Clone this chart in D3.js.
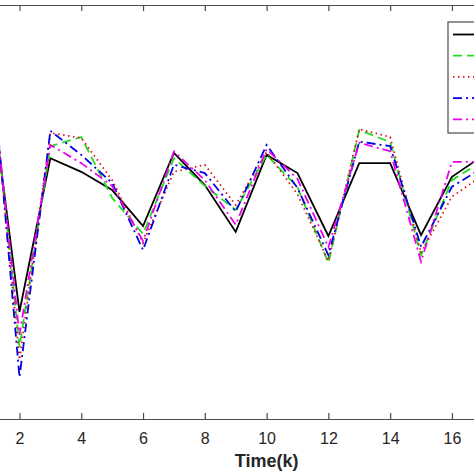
<!DOCTYPE html>
<html>
<head>
<meta charset="utf-8">
<script src="https://cdn.jsdelivr.net/npm/d3@7"></script>
<style>
    body { margin: 0; background: #fff; }
    svg { display: block; font-family: Arial, "Liberation Sans", Helvetica, sans-serif; }
</style>
</head>
<body>
<div id="chart"></div>
<script>
// Time steps (x values)
const timeSteps = [1, 2, 3, 4, 5, 6, 7, 8, 9, 10, 11, 12, 13, 14, 15, 16, 17];

// Series values
const series1 = [8.41, 2.59, 6.30, 5.97, 5.53, 4.66, 6.43, 5.65, 4.52, 6.38, 5.94, 4.42, 6.18, 6.18, 4.44, 5.85, 6.36];
const series2 = [9.01, 1.74, 6.59, 6.81, 5.34, 4.47, 6.30, 5.63, 5.05, 6.38, 5.60, 3.77, 6.98, 6.69, 3.96, 5.77, 6.23];
const series3 = [9.20, 1.43, 6.91, 6.79, 5.77, 4.25, 5.97, 6.14, 5.17, 6.45, 5.43, 3.82, 7.00, 6.81, 4.01, 5.37, 5.89];
const series4 = [9.52, 1.01, 6.96, 6.38, 5.70, 4.08, 6.14, 5.94, 5.01, 6.62, 5.58, 3.96, 6.70, 6.59, 4.16, 5.61, 6.07];
const series5 = [8.91, 2.03, 6.62, 6.18, 5.63, 4.30, 6.46, 5.77, 4.69, 6.52, 5.80, 4.15, 6.67, 6.47, 3.80, 6.21, 6.21];

// Tick labels on the x axis (the ones inside the picture)
const xTicks = [2, 4, 6, 8, 10, 12, 14, 16];

// Set svg width and height
const svgWidth = 474;
const svgHeight = 474;

// The axes box runs past the left and right edges of the picture
const box = { left: -11.4, right: 544.6, top: 5, bottom: 419 };

// Line styles (MATLAB-like)
const styles = [
    { color: "#000000", dash: null },
    { color: "#22dd22", dash: "9,5" },
    { color: "#dd1111", dash: "1.5,3.5" },
    { color: "#0000e6", dash: "9,4,2,4" },
    { color: "#ee00ee", dash: "9,4,2,4" }
];

const allSeries = [series1, series2, series3, series4, series5];

const svg = d3.select("#chart")
              .append("svg")
              .attr("width", svgWidth)
              .attr("height", svgHeight);

const xScale = d3.scaleLinear()
                 .domain([1, 19])
                 .range([box.left, box.right]);

const yScale = d3.scaleLinear()
                 .domain([0, 10])
                 .range([box.bottom, box.top]);

// Bottom axis, ticks pointing inward
const xAxis = svg.append("g")
                 .attr("transform", `translate(0, ${box.bottom})`)
                 .call(d3.axisBottom(xScale)
                         .tickValues(xTicks)
                         .tickSizeInner(-6)
                         .tickSizeOuter(0)
                         .tickPadding(14));

xAxis.select(".domain").attr("stroke", "#4d4d4d").attr("stroke-width", 1.2);
xAxis.selectAll(".tick line").attr("stroke", "#4d4d4d").attr("stroke-width", 1.2);
xAxis.selectAll(".tick text")
     .attr("fill", "#262626")
     .style("font-size", "16px");

// Top axis line with mirrored ticks
const topAxis = svg.append("g")
                   .attr("transform", `translate(0, ${box.top})`)
                   .call(d3.axisTop(xScale)
                           .tickValues(xTicks)
                           .tickSizeInner(-6)
                           .tickSizeOuter(0)
                           .tickFormat(""));

topAxis.select(".domain").attr("stroke", "#4d4d4d").attr("stroke-width", 1.2);
topAxis.selectAll(".tick line").attr("stroke", "#4d4d4d").attr("stroke-width", 1.2);

// X axis label
svg.append("text")
   .attr("x", (box.left + box.right) / 2)
   .attr("y", 467)
   .attr("text-anchor", "middle")
   .attr("fill", "#262626")
   .style("font-size", "18px")
   .style("font-weight", "bold")
   .text("Time(k)");

// Draw the lines
const line = d3.line()
               .x((d, i) => xScale(timeSteps[i]))
               .y(d => yScale(d));

svg.append("g")
   .selectAll("path")
   .data(allSeries)
   .enter()
   .append("path")
   .attr("d", d => line(d))
   .attr("fill", "none")
   .attr("stroke", (d, i) => styles[i].color)
   .attr("stroke-width", 1.8)
   .attr("stroke-dasharray", (d, i) => styles[i].dash)
   .attr("stroke-linejoin", "miter");

// Legend box (cut off at right edge)
const legend = svg.append("g")
                  .attr("transform", "translate(448, 22)");

legend.append("rect")
      .attr("width", 80)
      .attr("height", 111)
      .attr("fill", "#fff")
      .attr("stroke", "#4d4d4d")
      .attr("stroke-width", 1.2);

legend.selectAll("line")
      .data(styles)
      .enter()
      .append("line")
      .attr("x1", 5)
      .attr("x2", 35)
      .attr("y1", (d, i) => 12.5 + i * 21.2)
      .attr("y2", (d, i) => 12.5 + i * 21.2)
      .attr("stroke", d => d.color)
      .attr("stroke-width", 1.8)
      .attr("stroke-dasharray", d => d.dash);
</script>
</body>
</html>
